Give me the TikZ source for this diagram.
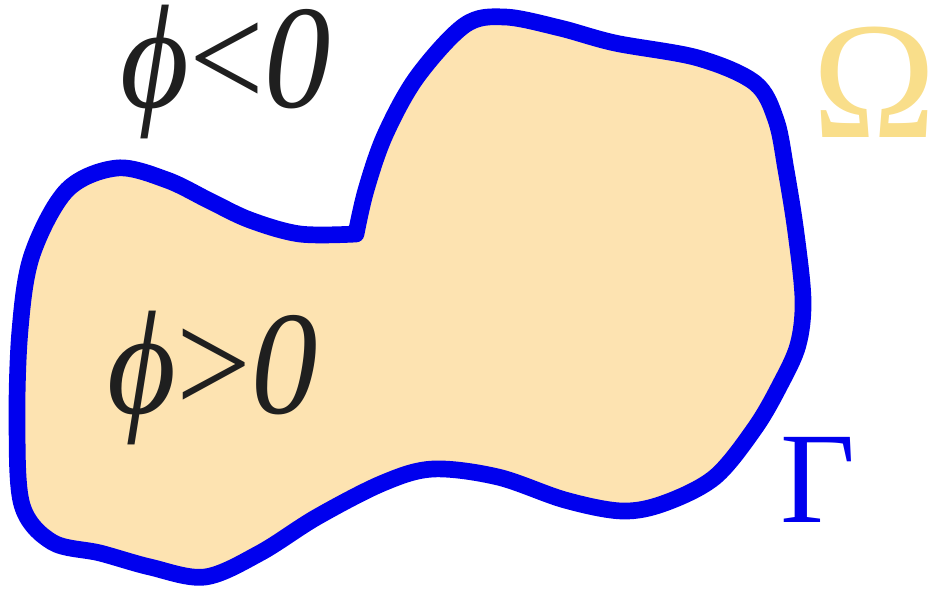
\documentclass[tikz,border=0pt]{standalone}
\usepackage{fontspec}
\usepackage{graphicx}
\setmainfont{Liberation Serif}
\definecolor{blueline}{HTML}{0000EE}
\definecolor{peach}{HTML}{FDE3B1}
\definecolor{gold}{HTML}{F9DE8A}
\tikzset{
  boundary/.style={line width=9.5pt, draw=blueline, fill=peach, line join=round},
  biglabel/.style={anchor=base west, inner sep=0pt, text height=56pt, text depth=15pt,
    font=\fontsize{84}{90}\selectfont, text=black!88}
}
\begin{document}
\begin{tikzpicture}[x=0.02cm,y=-0.02cm]
\useasboundingbox (0,0) rectangle (935,589);
\draw[boundary] plot[smooth, tension=0.55] coordinates {
 (356,234) (366,190) (385,135) (417,77) (465,25) (505,17) (560,28) (615,43)
 (698,58) (755,83) (776,120) (786,170) (796,233) (803,300) (798,345)
 (780,385) (755,428) (715,477) (665,503) (622,511) (565,500) (498,477)
 (433,469) (383,483) (317,517) (260,553) (205,577) (150,567) (100,553)
 (52,542) (22,505) (17,423) (20,330) (32,255) (67,190) (117,168)
 (167,180) (210,201) (250,220) (300,234) (356,234)} -- cycle;
\node[biglabel] (neg) at (120,107) {\scalebox{0.9}[1]{\textit{ϕ}<\textit{0}}};
\node[biglabel] (pos) at (107,413) {\scalebox{0.9}[1]{\textit{ϕ}>\textit{0}}};
\node[anchor=base west, inner sep=0pt, text height=64pt, text depth=0pt,
  font=\fontsize{95}{100}\selectfont, text=gold] (omega) at (812,137) {Ω};
\node[anchor=base west, inner sep=0pt, font=\fontsize{74}{80}\selectfont, text=blueline] (gamma) at (780,522) {Γ};
\end{tikzpicture}
\end{document}
